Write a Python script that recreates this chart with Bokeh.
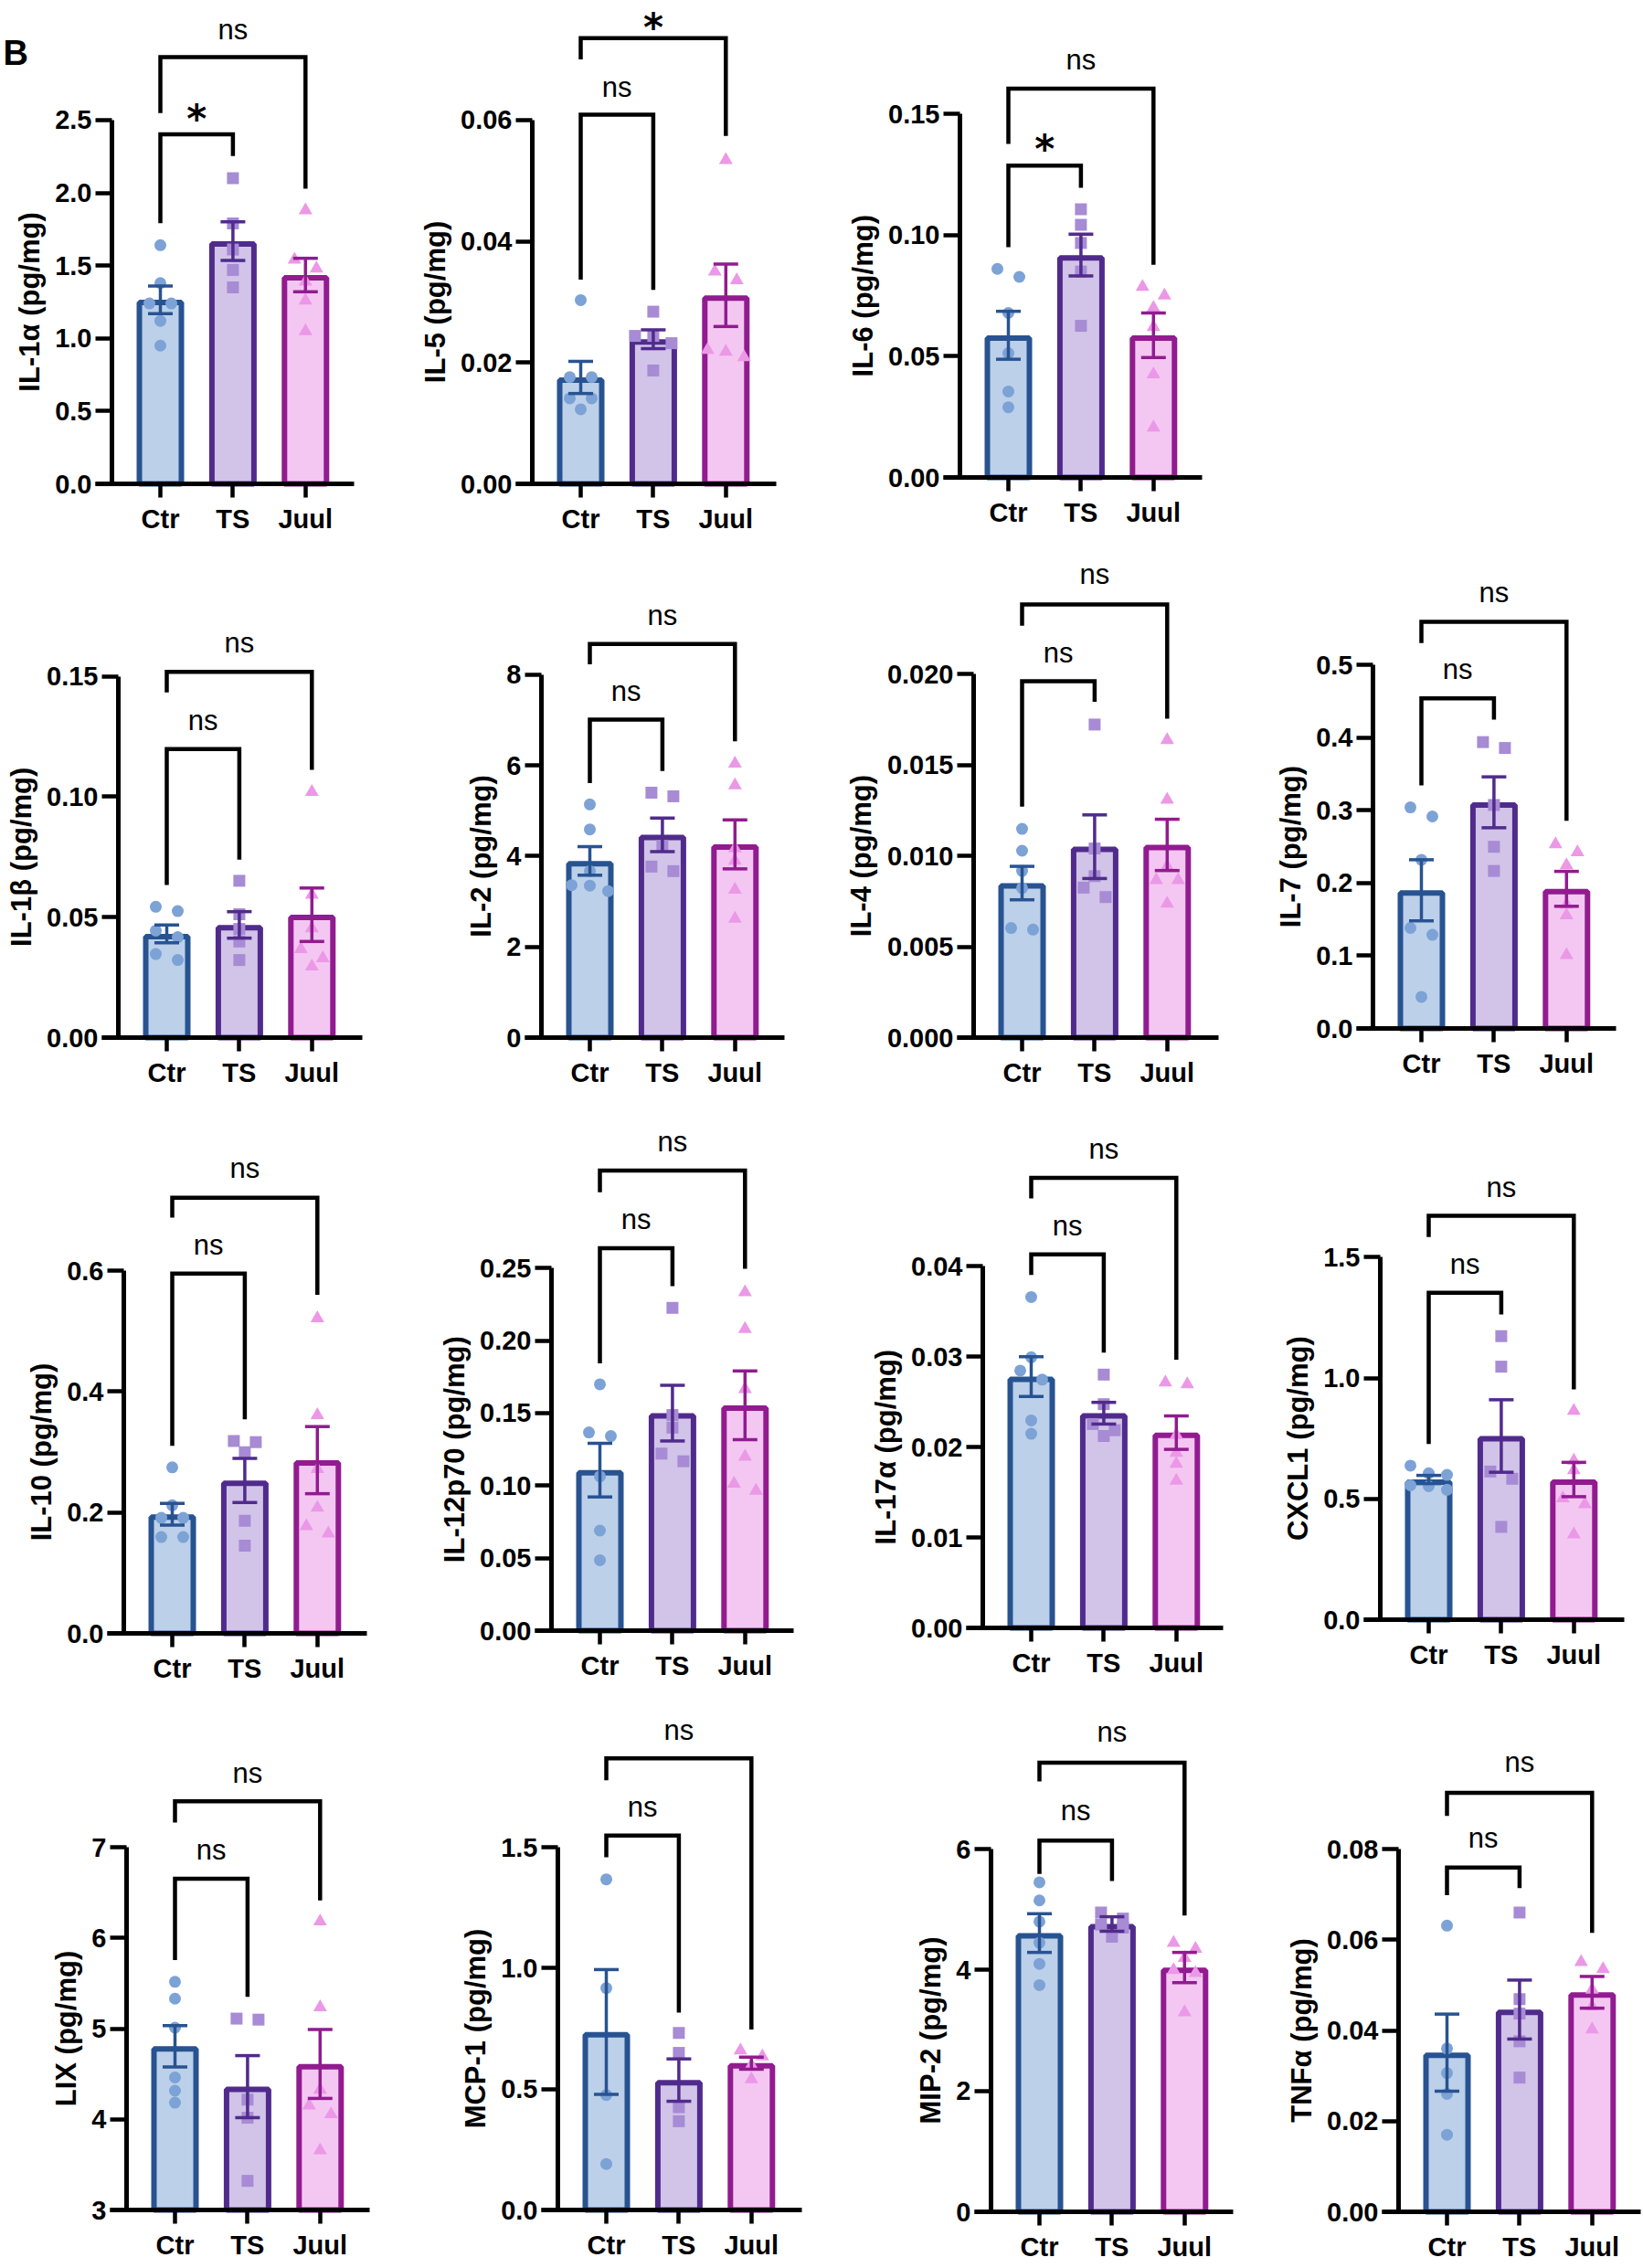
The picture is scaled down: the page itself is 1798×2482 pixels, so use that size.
import math
from bokeh.plotting import figure
from bokeh.models import Range1d, FixedTicker, PrintfTickFormatter, ColumnDataSource
from bokeh.layouts import row, column
from bokeh.embed import file_html
from bokeh.resources import INLINE
from bokeh.core.properties import value

# ---------------- data ----------------
groups = ["Ctr", "TS", "Juul"]
comparisons = [(0, 1), (0, 2)]   # Ctr vs TS, Ctr vs Juul

il1a_label = "IL-1α (pg/mg)"
il1a_ticks = ["0.0", "0.5", "1.0", "1.5", "2.0", "2.5"]
il1a_ctr = [1.64, 1.38, 1.24, 1.24, 1.12, 0.95]
il1a_ts = [2.10, 1.79, 1.61, 1.47, 1.35]
il1a_juul = [1.88, 1.54, 1.48, 1.39, 1.26, 1.05]
il1a_mean = [1.265, 1.668, 1.435]
il1a_sem = [0.095, 0.133, 0.115]
il1a_sig = ["*", "ns"]
il1a_sig_y = [2.558, 3.105]
il1a_brk_level = [2.402, 2.932]
il1a_brk_left = [1.792, 2.548]
il1a_brk_right = [2.253, 2.029]

il5_label = "IL-5 (pg/mg)"
il5_ticks = ["0.00", "0.02", "0.04", "0.06"]
il5_ctr = [0.0303, 0.0176, 0.0176, 0.0141, 0.0141, 0.0123]
il5_ts = [0.0284, 0.0244, 0.0244, 0.0232, 0.0187]
il5_juul = [0.0534, 0.0350, 0.0336, 0.0221, 0.0209, 0.0218]
il5_mean = [0.01755, 0.02385, 0.0311]
il5_sem = [0.00265, 0.00155, 0.00515]
il5_sig = ["ns", "*"]
il5_sig_y = [0.0650, 0.0764]
il5_brk_level = [0.0609, 0.0735]
il5_brk_left = [0.0337, 0.0700]
il5_brk_right = [0.0320, 0.0574]

il6_label = "IL-6 (pg/mg)"
il6_ticks = ["0.00", "0.05", "0.10", "0.15"]
il6_ctr = [0.0861, 0.0828, 0.0679, 0.0513, 0.0355, 0.0290]
il6_ts = [0.1107, 0.1043, 0.0968, 0.0850, 0.0626]
il6_juul = [0.0787, 0.0751, 0.0700, 0.0621, 0.0426, 0.0206]
il6_mean = [0.0587, 0.0918, 0.0587]
il6_sem = [0.0099, 0.0086, 0.0092]
il6_sig = ["*", "ns"]
il6_sig_y = [0.1386, 0.1712]
il6_brk_level = [0.1287, 0.1605]
il6_brk_left = [0.0951, 0.1377]
il6_brk_right = [0.1196, 0.0878]

il1b_label = "IL-1β (pg/mg)"
il1b_ticks = ["0.00", "0.05", "0.10", "0.15"]
il1b_ctr = [0.0543, 0.0525, 0.0444, 0.0417, 0.0347, 0.0322]
il1b_ts = [0.0651, 0.0512, 0.0451, 0.0399, 0.0322]
il1b_juul = [0.1020, 0.0593, 0.0454, 0.0367, 0.0329, 0.0295]
il1b_mean = [0.0431, 0.0468, 0.0510]
il1b_sem = [0.0037, 0.0055, 0.0111]
il1b_sig = ["ns", "ns"]
il1b_sig_y = [0.1307, 0.1629]
il1b_brk_level = [0.1198, 0.1518]
il1b_brk_left = [0.0634, 0.1433]
il1b_brk_right = [0.0739, 0.1112]

il2_label = "IL-2 (pg/mg)"
il2_ticks = ["0", "2", "4", "6", "8"]
il2_ctr = [5.14, 4.59, 3.67, 3.36, 3.35, 3.23]
il2_ts = [5.40, 5.32, 4.23, 3.77, 3.67]
il2_juul = [6.04, 5.56, 4.17, 3.90, 3.26, 2.62]
il2_mean = [3.895, 4.47, 4.26]
il2_sem = [0.315, 0.37, 0.54]
il2_sig = ["ns", "ns"]
il2_sig_y = [7.57, 9.26]
il2_brk_level = [7.01, 8.68]
il2_brk_left = [5.61, 8.23]
il2_brk_right = [5.88, 6.53]

il4_label = "IL-4 (pg/mg)"
il4_ticks = ["0.000", "0.005", "0.010", "0.015", "0.020"]
il4_ctr = [0.01148, 0.01028, 0.00917, 0.00822, 0.00603, 0.00594]
il4_ts = [0.01722, 0.01040, 0.00888, 0.00825, 0.00773]
il4_juul = [0.01637, 0.01309, 0.00942, 0.00866, 0.00866, 0.00737]
il4_mean = [0.0085, 0.0105, 0.0106]
il4_sem = [0.00092, 0.00175, 0.00141]
il4_sig = ["ns", "ns"]
il4_sig_y = [0.02104, 0.02535]
il4_brk_level = [0.0196, 0.02382]
il4_brk_left = [0.0127, 0.02266]
il4_brk_right = [0.01847, 0.01754]

il7_label = "IL-7 (pg/mg)"
il7_ticks = ["0.0", "0.1", "0.2", "0.3", "0.4", "0.5"]
il7_ctr = [0.304, 0.2915, 0.2319, 0.1382, 0.1287, 0.0435]
il7_ts = [0.3938, 0.3857, 0.3073, 0.2498, 0.2166]
il7_juul = [0.2534, 0.2422, 0.2243, 0.1704, 0.1556, 0.1009]
il7_mean = [0.190, 0.311, 0.192]
il7_sem = [0.042, 0.035, 0.024]
il7_sig = ["ns", "ns"]
il7_sig_y = [0.4902, 0.5965]
il7_brk_level = [0.4539, 0.5592]
il7_brk_left = [0.3342, 0.530]
il7_brk_right = [0.4247, 0.2857]

il10_label = "IL-10 (pg/mg)"
il10_ticks = ["0.0", "0.2", "0.4", "0.6"]
il10_ctr = [0.2746, 0.2119, 0.1911, 0.1911, 0.1594, 0.1594]
il10_ts = [0.3183, 0.3164, 0.2997, 0.1863, 0.1451]
il10_juul = [0.5212, 0.3612, 0.2717, 0.2078, 0.1773, 0.1654]
il10_mean = [0.197, 0.253, 0.2866]
il10_sem = [0.018, 0.0365, 0.0555]
il10_sig = ["ns", "ns"]
il10_sig_y = [0.6389, 0.7654]
il10_brk_level = [0.5952, 0.7206]
il10_brk_left = [0.3104, 0.6878]
il10_brk_right = [0.3541, 0.5601]

il12_label = "IL-12p70 (pg/mg)"
il12_ticks = ["0.00", "0.05", "0.10", "0.15", "0.20", "0.25"]
il12_ctr = [0.1699, 0.1367, 0.1342, 0.1064, 0.0690, 0.0486]
il12_ts = [0.2226, 0.1487, 0.1400, 0.1221, 0.1168]
il12_juul = [0.2334, 0.2080, 0.1666, 0.1200, 0.1014, 0.0964]
il12_mean = [0.1107, 0.150, 0.1554]
il12_sem = [0.0185, 0.0192, 0.0237]
il12_sig = ["ns", "ns"]
il12_sig_y = [0.2819, 0.3354]
il12_brk_level = [0.2637, 0.3173]
il12_brk_left = [0.1843, 0.3023]
il12_brk_right = [0.2376, 0.2495]

il17_label = "IL-17α (pg/mg)"
il17_ticks = ["0.00", "0.01", "0.02", "0.03", "0.04"]
il17_ctr = [0.0366, 0.02994, 0.02846, 0.02746, 0.02295, 0.02147]
il17_ts = [0.02802, 0.02475, 0.02255, 0.02187, 0.02123]
il17_juul = [0.02714, 0.02695, 0.02135, 0.01936, 0.01816, 0.01629]
il17_mean = [0.0278, 0.02375, 0.0216]
il17_sem = [0.0022, 0.0012, 0.00185]
il17_sig = ["ns", "ns"]
il17_sig_y = [0.04423, 0.05269]
il17_brk_level = [0.04132, 0.04978]
il17_brk_left = [0.03904, 0.0475]
il17_brk_right = [0.03046, 0.02966]

cxcl1_label = "CXCL1 (pg/mg)"
cxcl1_ticks = ["0.0", "0.5", "1.0", "1.5"]
cxcl1_ctr = [0.6374, 0.6058, 0.5990, 0.5563, 0.5520, 0.5377]
cxcl1_ts = [1.1733, 1.047, 0.613, 0.583, 0.384]
cxcl1_juul = [0.8647, 0.6586, 0.6188, 0.5021, 0.4779, 0.3528]
cxcl1_mean = [0.58, 0.76, 0.58]
cxcl1_sem = [0.017, 0.15, 0.071]
cxcl1_sig = ["ns", "ns"]
cxcl1_sig_y = [1.462, 1.778]
cxcl1_brk_level = [1.3524, 1.671]
cxcl1_brk_left = [0.727, 1.583]
cxcl1_brk_right = [1.263, 0.953]

lix_label = "LIX (pg/mg)"
lix_ticks = ["3", "4", "5", "6", "7"]
lix_ctr = [5.516, 5.33, 5.01, 4.461, 4.315, 4.183]
lix_ts = [5.11, 5.099, 4.217, 4.017, 3.321]
lix_juul = [6.181, 5.234, 4.326, 4.152, 4.055, 3.657]
lix_mean = [4.805, 4.36, 4.61]
lix_sem = [0.228, 0.342, 0.38]
lix_sig = ["ns", "ns"]
lix_sig_y = [6.942, 7.785]
lix_brk_level = [6.652, 7.507]
lix_brk_left = [5.756, 7.271]
lix_brk_right = [5.35, 6.413]

mcp1_label = "MCP-1 (pg/mg)"
mcp1_ticks = ["0.0", "0.5", "1.0", "1.5"]
mcp1_ctr = [1.367, 0.9174, 0.4754, 0.19]
mcp1_ts = [0.732, 0.6496, 0.4248, 0.367]
mcp1_juul = [0.66, 0.635, 0.599, 0.541]
mcp1_mean = [0.736, 0.537, 0.607]
mcp1_sem = [0.258, 0.0876, 0.025]
mcp1_sig = ["ns", "ns"]
mcp1_sig_y = [1.654, 1.973]
mcp1_brk_level = [1.548, 1.867]
mcp1_brk_left = [1.458, 1.777]
mcp1_brk_right = [0.816, 0.746]

mip2_label = "MIP-2 (pg/mg)"
mip2_ticks = ["0", "2", "4", "6"]
mip2_ctr = [5.45, 5.15, 4.80, 4.45, 4.10, 3.75]
mip2_ts = [4.95, 4.85, 4.75, 4.70, 4.55]
mip2_juul = [4.45, 4.35, 4.20, 4.00, 3.95, 3.30]
mip2_mean = [4.61, 4.76, 4.04]
mip2_sem = [0.32, 0.12, 0.25]
mip2_sig = ["ns", "ns"]
mip2_sig_y = [6.60, 7.89]
mip2_brk_level = [6.14, 7.43]
mip2_brk_left = [5.59, 7.12]
mip2_brk_right = [5.47, 4.90]

tnfa_label = "TNFα (pg/mg)"
tnfa_ticks = ["0.00", "0.02", "0.04", "0.06", "0.08"]
tnfa_ctr = [0.0631, 0.036, 0.0306, 0.026, 0.017]
tnfa_ts = [0.066, 0.0469, 0.0437, 0.0376, 0.0296]
tnfa_juul = [0.0551, 0.0535, 0.049, 0.0453, 0.0402]
tnfa_mean = [0.0351, 0.0446, 0.0484]
tnfa_sem = [0.0085, 0.0065, 0.0035]
tnfa_sig = ["ns", "ns"]
tnfa_sig_y = [0.0819, 0.0985]
tnfa_brk_level = [0.0759, 0.0924]
tnfa_brk_left = [0.0698, 0.0873]
tnfa_brk_right = [0.0714, 0.0615]

panel_letter = "B"

# ---------------- styles / layout ----------------
FILLS = ["#BCD0EA", "#D1C4E8", "#F3C7F2"]
LINES = ["#285391", "#502B8C", "#911B8F"]
POINTS = ["#7CA2D6", "#A78BD4", "#EB98E6"]
MARKERS = ["circle", "square", "triangle"]
MSIZE = [13, 13, 15]
FONT = "Liberation Sans"
TICK_PX = 29
TITLE_PX = 31

SP = 79.4          # px between group centres
CTR_OFF = 53       # px from the y axis to the first group centre
BAR_W = 46 / SP
CAP_W = 27 / SP

# rows: (top, height) in page px ; column boundaries in page px
ROWS = [(0, 600), (600, 605), (1205, 650), (1855, 625)]
BOUNDS = [[0, 420, 880, 1400],
          [0, 420, 880, 1360, 1796],
          [0, 430, 900, 1370, 1796],
          [0, 460, 950, 1380, 1796]]
# per panel geometry: (y axis x, x axis end, y of first tick, y of last tick), page px
GEOM = [
    [(122, 387, 529, 130.9), (582, 849, 529, 130.9), (1050, 1315, 522, 124.4)],
    [(129, 396, 1135, 739.6), (592, 858, 1135, 737.9), (1065, 1333, 1135, 737.1), (1502, 1768, 1125, 727.1)],
    [(135, 401, 1787, 1390.1), (603, 868, 1784, 1387.3), (1075, 1338, 1781, 1385.3), (1510, 1777, 1772, 1375.3)],
    [(138, 404, 2418, 2021), (610, 877, 2418, 2021), (1084, 1349, 2420, 2023), (1530, 1795, 2420, 2023)],
]

PANELS = [
    [(il1a_label, il1a_ticks, [il1a_ctr, il1a_ts, il1a_juul], il1a_mean, il1a_sem, il1a_sig, il1a_sig_y, il1a_brk_level, il1a_brk_left, il1a_brk_right),
     (il5_label, il5_ticks, [il5_ctr, il5_ts, il5_juul], il5_mean, il5_sem, il5_sig, il5_sig_y, il5_brk_level, il5_brk_left, il5_brk_right),
     (il6_label, il6_ticks, [il6_ctr, il6_ts, il6_juul], il6_mean, il6_sem, il6_sig, il6_sig_y, il6_brk_level, il6_brk_left, il6_brk_right)],
    [(il1b_label, il1b_ticks, [il1b_ctr, il1b_ts, il1b_juul], il1b_mean, il1b_sem, il1b_sig, il1b_sig_y, il1b_brk_level, il1b_brk_left, il1b_brk_right),
     (il2_label, il2_ticks, [il2_ctr, il2_ts, il2_juul], il2_mean, il2_sem, il2_sig, il2_sig_y, il2_brk_level, il2_brk_left, il2_brk_right),
     (il4_label, il4_ticks, [il4_ctr, il4_ts, il4_juul], il4_mean, il4_sem, il4_sig, il4_sig_y, il4_brk_level, il4_brk_left, il4_brk_right),
     (il7_label, il7_ticks, [il7_ctr, il7_ts, il7_juul], il7_mean, il7_sem, il7_sig, il7_sig_y, il7_brk_level, il7_brk_left, il7_brk_right)],
    [(il10_label, il10_ticks, [il10_ctr, il10_ts, il10_juul], il10_mean, il10_sem, il10_sig, il10_sig_y, il10_brk_level, il10_brk_left, il10_brk_right),
     (il12_label, il12_ticks, [il12_ctr, il12_ts, il12_juul], il12_mean, il12_sem, il12_sig, il12_sig_y, il12_brk_level, il12_brk_left, il12_brk_right),
     (il17_label, il17_ticks, [il17_ctr, il17_ts, il17_juul], il17_mean, il17_sem, il17_sig, il17_sig_y, il17_brk_level, il17_brk_left, il17_brk_right),
     (cxcl1_label, cxcl1_ticks, [cxcl1_ctr, cxcl1_ts, cxcl1_juul], cxcl1_mean, cxcl1_sem, cxcl1_sig, cxcl1_sig_y, cxcl1_brk_level, cxcl1_brk_left, cxcl1_brk_right)],
    [(lix_label, lix_ticks, [lix_ctr, lix_ts, lix_juul], lix_mean, lix_sem, lix_sig, lix_sig_y, lix_brk_level, lix_brk_left, lix_brk_right),
     (mcp1_label, mcp1_ticks, [mcp1_ctr, mcp1_ts, mcp1_juul], mcp1_mean, mcp1_sem, mcp1_sig, mcp1_sig_y, mcp1_brk_level, mcp1_brk_left, mcp1_brk_right),
     (mip2_label, mip2_ticks, [mip2_ctr, mip2_ts, mip2_juul], mip2_mean, mip2_sem, mip2_sig, mip2_sig_y, mip2_brk_level, mip2_brk_left, mip2_brk_right),
     (tnfa_label, tnfa_ticks, [tnfa_ctr, tnfa_ts, tnfa_juul], tnfa_mean, tnfa_sem, tnfa_sig, tnfa_sig_y, tnfa_brk_level, tnfa_brk_left, tnfa_brk_right)],
]


def label_width(s, size=TICK_PX):
    return sum(0.278 * size if ch == "." else 0.556 * size for ch in s)


def swarm_offsets(vals, ppu):
    n = len(vals)
    order = sorted(range(n), key=lambda i: -vals[i])
    rows_ = []
    for i in order:
        if rows_ and (vals[rows_[-1][0]] - vals[i]) * ppu < 10.5:
            rows_[-1].append(i)
        else:
            rows_.append([i])
    off = [0.0] * n
    for r in rows_:
        k = len(r)
        step = 24.0 if k == 2 else (20.0 if k == 3 else 16.0)
        for j, i in enumerate(r):
            off[i] = (j - (k - 1) / 2) * step
    return off


def style_axis(a):
    a.axis_line_width = 5
    a.axis_line_color = "black"
    a.major_tick_line_width = 4.5
    a.major_tick_line_color = "black"
    a.major_tick_in = 0
    a.minor_tick_line_color = None
    a.major_label_text_font = FONT
    a.major_label_text_font_size = str(TICK_PX) + "px"
    a.major_label_text_font_style = "bold"
    a.major_label_text_color = "black"
    a.axis_label = None


def add_text(p, x, y, text, size, style="bold", font=FONT, align="center", angle=0.0):
    p.text(x=x, y=y, text=text, angle=angle, text_align=align, text_baseline="middle",
           text_font=value(font), text_font_size=value(str(size) + "px"),
           text_font_style=style, text_color="black")


def make_panel(spec, geom, left, width, top, height, letter=None):
    (ylabel, tick_labels, pts, means, sems, sig, sig_y, b_level, b_left, b_right) = spec
    ax, xend, y0, ytop = geom
    ticks = [float(t) for t in tick_labels]
    base = ticks[0]
    dec = len(tick_labels[-1].split(".")[1]) if "." in tick_labels[-1] else 0
    ppu = (y0 - ytop) / (ticks[-1] - ticks[0])
    ctr = ax + CTR_OFF
    # the frame fills the whole figure; axes sit at fixed locations inside it
    x_start = (left - ctr) / SP
    x_end = (left + width - ctr) / SP
    y_start = base - (top + height - y0) / ppu
    y_end = base + (y0 - top) / ppu
    axd = (ax - ctr) / SP
    tkd = (ax - 18 - ctr) / SP
    xed = (xend - ctr) / SP

    p = figure(width=width, height=height, x_range=Range1d(x_start, x_end),
               y_range=Range1d(y_start, y_end), output_backend="svg",
               toolbar_location=None, title=None, min_border=0,
               min_border_left=0, min_border_right=0, min_border_top=0, min_border_bottom=0)
    p.outline_line_color = None
    p.background_fill_color = "white"
    p.border_fill_color = "white"
    p.xgrid.visible = False
    p.ygrid.visible = False

    xax = p.xaxis[0]
    style_axis(xax)
    xax.fixed_location = base
    xax.bounds = (tkd, xed)
    xax.ticker = FixedTicker(ticks=[0, 1, 2])
    xax.major_label_overrides = {i: g for i, g in enumerate(groups)}
    xax.major_tick_out = 15
    xax.major_label_standoff = 7

    yax = p.yaxis[0]
    style_axis(yax)
    yax.fixed_location = axd
    yax.bounds = (ticks[0], ticks[-1])
    yax.ticker = FixedTicker(ticks=ticks)
    yax.formatter = PrintfTickFormatter(format="%." + str(dec) + "f")
    yax.major_tick_out = 18
    yax.major_label_standoff = 4

    # y-axis title, centred on the axis span
    off = label_width(tick_labels[-1]) + 50
    add_text(p, [(ax - off - ctr) / SP], [(ticks[0] + ticks[-1]) / 2], [ylabel], TITLE_PX,
             angle=math.pi / 2)
    if letter:
        add_text(p, [(3 - ctr) / SP], [base + (y0 - 57.5) / ppu], [letter], 38, align="left")

    # bars
    half_lw = 3.0 / ppu
    bars = ColumnDataSource(dict(x=[0, 1, 2], top=[m - half_lw for m in means],
                                 bottom=[base] * 3, fill=FILLS, line=LINES))
    p.vbar(x="x", top="top", bottom="bottom", width=BAR_W, fill_color="fill",
           line_color="line", line_width=6, source=bars)

    # individual animals
    for gi, vals in enumerate(pts):
        offs = swarm_offsets(vals, ppu)
        xs = [gi + o / SP for o in offs]
        p.scatter(xs, vals, marker=MARKERS[gi], size=MSIZE[gi],
                  fill_color=POINTS[gi], line_color=None)

    # error bars (mean ± SEM)
    lo = [m - s for m, s in zip(means, sems)]
    hi = [m + s for m, s in zip(means, sems)]
    gx = [0, 1, 2]
    p.segment(x0=gx, y0=lo, x1=gx, y1=hi, line_color=LINES, line_width=3.5)
    p.segment(x0=[g - CAP_W / 2 for g in gx], y0=hi, x1=[g + CAP_W / 2 for g in gx], y1=hi,
              line_color=LINES, line_width=3.5)
    p.segment(x0=[g - CAP_W / 2 for g in gx], y0=lo, x1=[g + CAP_W / 2 for g in gx], y1=lo,
              line_color=LINES, line_width=3.5)

    # significance brackets
    bxs, bys = [], []
    for (a, b), lv, le, re in zip(comparisons, b_level, b_left, b_right):
        bxs.append([a, a, b, b])
        bys.append([le, lv, lv, re])
    p.multi_line(bxs, bys, line_color="black", line_width=4.5, line_join="miter")
    for (a, b), s, sy in zip(comparisons, sig, sig_y):
        if s == "*":
            size, shift, font, style = 42, -0.2 * 42, "DejaVu Sans", "bold"
        else:
            size, shift, font, style = 31, 0.09 * 31, FONT, "normal"
        add_text(p, [(a + b) / 2], [sy + shift / ppu], [s], size, style=style, font=font)
    return p


rows_out = []
for ri, (top, height) in enumerate(ROWS):
    figs = []
    b = BOUNDS[ri]
    for ci, spec in enumerate(PANELS[ri]):
        left, right = b[ci], b[ci + 1]
        figs.append(make_panel(spec, GEOM[ri][ci], left, right - left, top, height,
                               letter=panel_letter if (ri == 0 and ci == 0) else None))
    rows_out.append(row(*figs, spacing=0))

layout = column(*rows_out, spacing=0)

with open("out.html", "w") as f:
    f.write(file_html(layout, INLINE))
